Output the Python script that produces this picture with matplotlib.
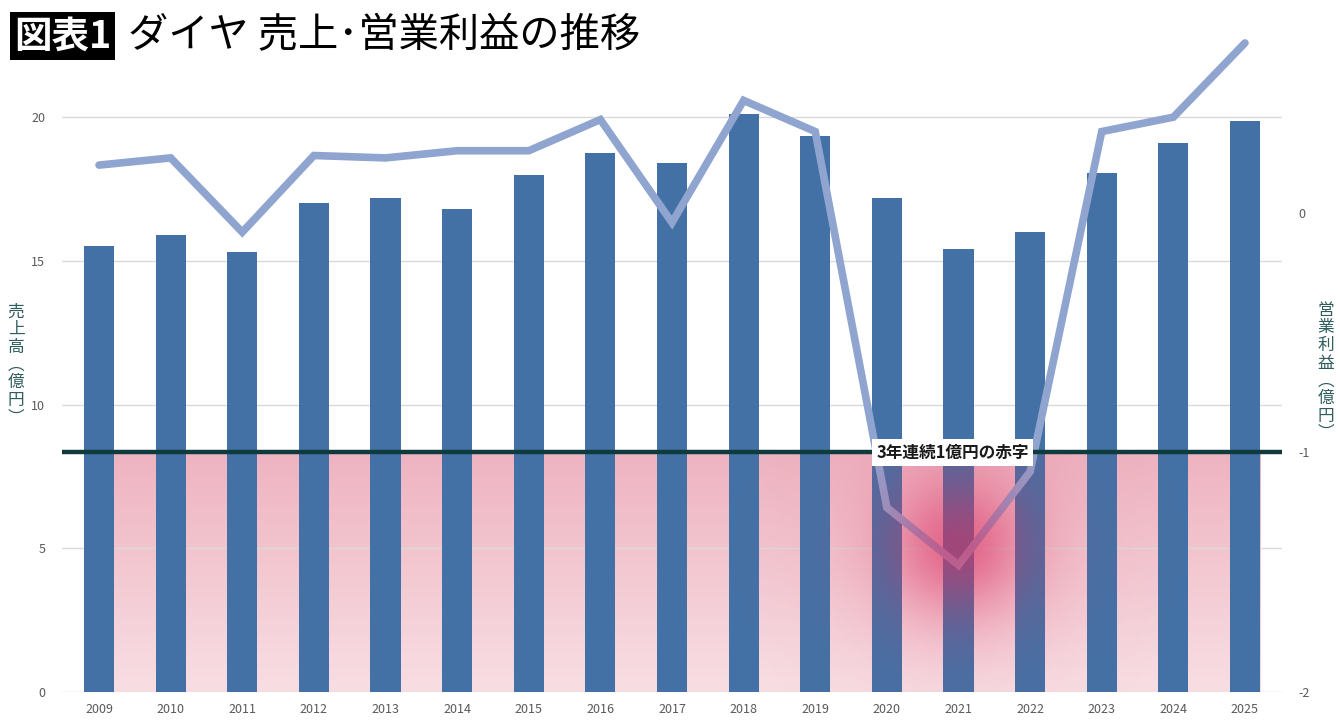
import numpy as np
import matplotlib.pyplot as plt

plt.rcParams['font.family'] = ['Noto Sans CJK JP', 'DejaVu Sans']
plt.rcParams['axes.unicode_minus'] = False

# データ
years = [2009, 2010, 2011, 2012, 2013, 2014, 2015, 2016, 2017,
         2018, 2019, 2020, 2021, 2022, 2023, 2024, 2025]
sales = [15.5, 15.9, 15.3, 17.0, 17.2, 16.8, 18.0, 18.75, 18.4,
         20.1, 19.35, 17.2, 15.4, 16.0, 18.05, 19.1, 19.85]
profit = [0.20, 0.23, -0.08, 0.24, 0.23, 0.26, 0.26, 0.39, -0.04,
          0.47, 0.34, -1.23, -1.47, -1.08, 0.34, 0.40, 0.71]
deficit_level = -1
deficit_label = '3年連続1億円の赤字'
deficit_year = 2021

left_ticks = [0, 5, 10, 15, 20]
right_ticks = [-2, -1, 0]
left_lim = (0, 22.82)
right_lim = (-2, 0.739)

bar_color = '#4471a5'
line_color = '#8fa5d0'
label_color = '#2f5c5c'
tick_color = '#595959'

fig = plt.figure(figsize=(13.4, 7.24), dpi=100)
ax = fig.add_axes([62 / 1340, 32 / 724, 1220 / 1340, 656 / 724])
ax2 = ax.twinx()

x = np.array(years)
xlim = (years[0] - 0.517, years[-1] + 0.517)

# ピンクのグラデーション（赤字ライン以下）
y_def = (deficit_level - right_lim[0]) / (right_lim[1] - right_lim[0]) * left_lim[1]
top_c = np.array([238, 179, 192]) / 255
bot_c = np.array([248, 222, 227]) / 255
t = np.linspace(0, 1, 200)[:, None]
grad = (top_c * (1 - t) + bot_c * t)[:, None, :]
ax.imshow(grad, extent=(years[0] - 0.21, years[-1] + 0.21, 0, y_def),
          aspect='auto', origin='upper', zorder=0.5)

ax.bar(x, sales, width=0.42, color=bar_color, zorder=2)

ax.set_xlim(xlim)
ax.set_ylim(left_lim)
ax.set_yticks(left_ticks)
ax.set_xticks(years)
ax.set_xticklabels([str(y) for y in years])
ax.grid(axis='y', color='#d9d9d9', linewidth=1, zorder=0)
ax.set_axisbelow(True)
ax.tick_params(length=0, labelsize=9, colors=tick_color, pad=8)
ax.tick_params(axis='y', pad=12)
for s in ax.spines.values():
    s.set_visible(False)

# 営業利益ライン
ax2.plot(x, profit, color=line_color, linewidth=5.5, solid_capstyle='round',
         solid_joinstyle='miter', zorder=3)
ax2.axhline(deficit_level, color='#0f3b3c', linewidth=3.2, zorder=4)

# 2021年付近の赤いグロー（赤字ライン以下のみ）
gcx = deficit_year
gcy = profit[years.index(deficit_year)] + 0.08
gxs = np.linspace(gcx - 4, gcx + 4, 400)
gys = np.linspace(right_lim[0], deficit_level, 300)
GX, GY = np.meshgrid(gxs, gys)
# ピクセル換算での距離（1年 ≈ 71.6px, 1億円 ≈ 239.5px）
d2 = ((GX - gcx) * 71.6) ** 2 + ((GY - gcy) * 239.5) ** 2
alpha = 0.42 * np.exp(-d2 / (2 * 45 ** 2)) + 0.2 * np.exp(-d2 / (2 * 80 ** 2))
glow = np.zeros((300, 400, 4))
glow[..., 0] = 0.86
glow[..., 1] = 0.18
glow[..., 2] = 0.38
glow[..., 3] = alpha
ax2.imshow(glow, extent=(gxs[0], gxs[-1], gys[0], gys[-1]), origin='lower',
           aspect='auto', zorder=3.5)

ax2.text(deficit_year - 0.08, deficit_level, deficit_label, ha='center', va='center',
         fontsize=12, fontweight='bold', color='#1a1a1a', zorder=5,
         bbox=dict(facecolor='white', edgecolor='none', pad=3))

ax2.set_xlim(xlim)
ax2.set_ylim(right_lim)
ax2.set_yticks(right_ticks)
ax2.tick_params(length=0, labelsize=9, colors=tick_color, pad=12)
for s in ax2.spines.values():
    s.set_visible(False)

# 縦書きの軸ラベル
fig.text(16 / 1340, 1 - 365 / 724, '\n'.join('売上高︵億円︶'), ha='center', va='center',
         fontsize=12, color=label_color, linespacing=1.05)
fig.text(1326 / 1340, 1 - 372 / 724, '\n'.join('営業利益︵億円︶'), ha='center', va='center',
         fontsize=12, color=label_color, linespacing=1.05)

# タイトル
fig.text(14 / 1340, 1 - 36 / 724, '図表1', ha='left', va='center', fontsize=27,
         fontweight='bold', color='white',
         bbox=dict(facecolor='black', edgecolor='none', pad=3))
fig.text(128 / 1340, 1 - 36 / 724, 'ダイヤ 売上･営業利益の推移', ha='left', va='center',
         fontsize=29, color='black')

fig.savefig('out.png', dpi=100)
